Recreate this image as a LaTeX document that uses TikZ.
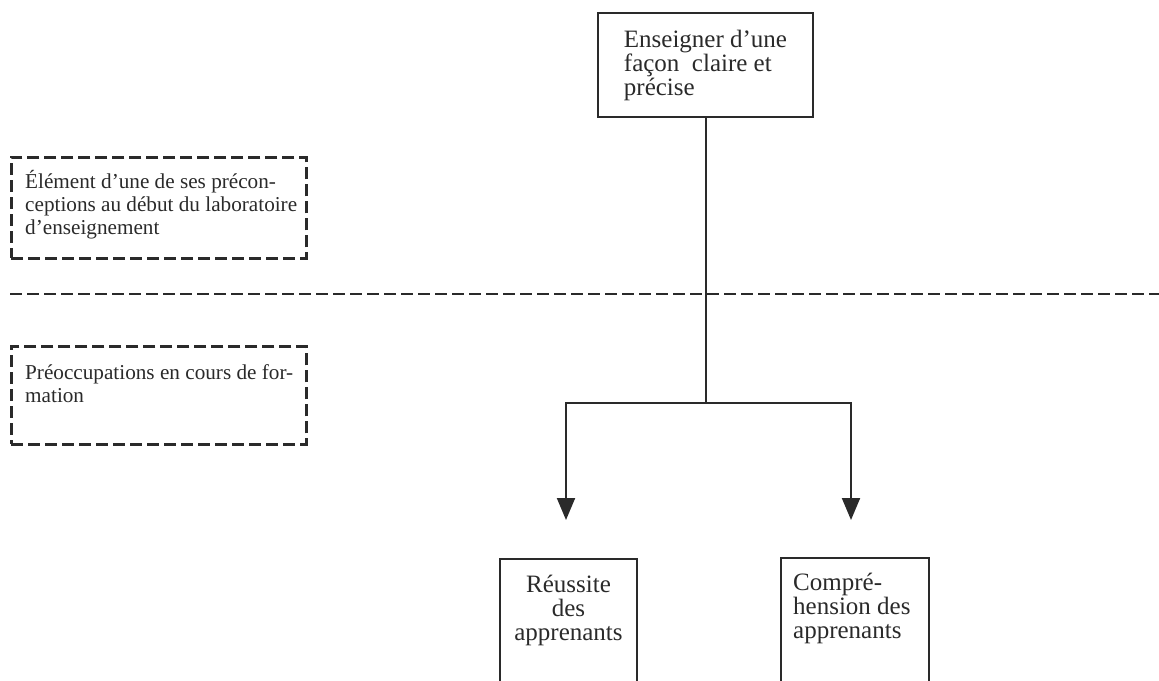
\documentclass[tikz,border=0pt]{standalone}
\usepackage{fontspec}
\setmainfont{Liberation Serif}
\usetikzlibrary{arrows.meta}
\definecolor{ink}{HTML}{2A2A2A}
\begin{document}
\begin{tikzpicture}[x=1pt,y=-1pt,
  solidbox/.style={draw=ink, line width=2pt, inner sep=0pt},
  dashbox/.style={draw=ink, line width=2.6pt, dash pattern=on 12pt off 5pt, inner sep=0pt},
  dashline/.style={draw=ink, line width=2.8pt, dash pattern=on 12pt off 5pt},
  bigtxt/.style={font=\fontsize{25}{24}\selectfont, inner sep=0pt, text=ink},
  smalltxt/.style={font=\fontsize{21.2}{23}\selectfont, inner sep=0pt, align=left, text=ink},
  conn/.style={draw=ink, line width=2pt},
  tipdown/.style={-{Triangle[length=22pt,width=18pt]}}
]
\clip (0,0) rectangle (1159,680);

% top box
\node[solidbox, bigtxt, align=left, minimum width=215pt,
      minimum height=104pt, anchor=north west] (top) at (597,12)
  {Enseigner d'une\\façon\ \ claire et\\précise};

% bottom boxes
\node[solidbox, minimum width=137pt, minimum height=150pt, anchor=north west] (reu) at (499,558) {};
\node[bigtxt, align=center, anchor=north] (reut) at ([yshift=-17pt]reu.north)
  {Réussite\\des\\apprenants};

\node[solidbox, minimum width=148pt, minimum height=150pt, anchor=north west] (comp) at (780,557) {};
\node[bigtxt, align=left, anchor=north west] (compt) at ([xshift=13pt,yshift=-16pt]comp.north west)
  {Compré-\\hension des\\apprenants};

% connectors
\coordinate (split) at (top.south |- 0,403);
\coordinate (aL) at (566,520);
\coordinate (aR) at (851,520);
\draw[conn] (top.south) -- (split);
\draw[conn, tipdown] (split) -| (aL);
\draw[conn, tipdown] (split) -| (aR);

% dashed separator
\coordinate (dl) at (10,294);
\coordinate (dr) at (1159,294);
\draw[dashline] (dl) -- (dr);

% dashed legend boxes
\node[dashbox, minimum width=295pt, minimum height=101pt, anchor=north west] (pre) at (10,156) {};
\node[smalltxt, anchor=north west] (pret) at ([xshift=15pt,yshift=-14pt]pre.north west)
  {Élément d'une de ses précon-\\ceptions au début du laboratoire\\d'enseignement};

\node[dashbox, minimum width=295pt, minimum height=98pt, anchor=north west] (preo) at (10,345) {};
\node[smalltxt, anchor=north west] (preot) at ([xshift=15pt,yshift=-19pt]preo.north west)
  {Préoccupations en cours de for-\\mation};
\end{tikzpicture}
\end{document}
